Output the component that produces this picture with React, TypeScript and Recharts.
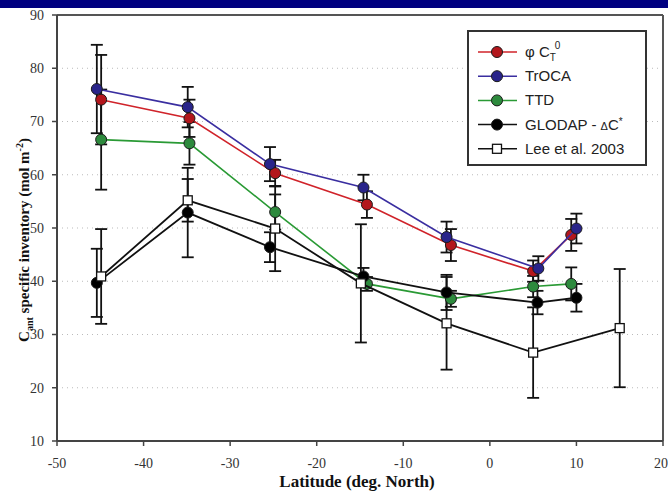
import React from 'react';
import { ScatterChart, Scatter, XAxis, YAxis, CartesianGrid, ErrorBar, ReferenceLine } from 'recharts';

const xTicks = [-50, -40, -30, -20, -10, 0, 10, 20];
const yTicks = [10, 20, 30, 40, 50, 60, 70, 80, 90];

// φ CT0
const phiLat = [-44.9, -34.7, -24.8, -14.2, -4.5, 5.0, 9.4];
const phiVal = [74.1, 70.6, 60.3, 54.4, 46.8, 41.9, 48.7];
const phiErr = [8.4, 3.5, 2.5, 2.5, 3.0, 2.0, 3.0];
// TrOCA
const trocaLat = [-45.4, -34.9, -25.4, -14.6, -5.0, 5.6, 10.0];
const trocaVal = [76.1, 72.7, 62.0, 57.6, 48.3, 42.4, 49.9];
const trocaErr = [8.3, 3.8, 3.2, 2.4, 2.9, 2.3, 2.8];
// TTD
const ttdLat = [-44.9, -34.7, -24.8, -14.2, -4.5, 5.0, 9.4];
const ttdVal = [66.6, 65.9, 53.0, 39.5, 36.7, 39.0, 39.5];
const ttdErr = [9.4, 4.0, 3.3, 1.3, 1.5, 2.0, 3.1];
// GLODAP - ΔC*
const gloLat = [-45.4, -34.9, -25.4, -14.6, -5.0, 5.5, 10.0];
const gloVal = [39.7, 52.9, 46.4, 40.9, 37.9, 36.0, 36.9];
const gloErr = [6.4, 8.4, 2.8, 1.6, 3.3, 2.2, 2.6];
// Lee et al. 2003
const leeLat = [-44.9, -34.9, -24.8, -14.9, -5.0, 5.0, 15.0];
const leeVal = [40.9, 55.2, 49.9, 39.6, 32.1, 26.6, 31.2];
const leeErr = [8.9, 4.0, 8.0, 11.1, 8.7, 8.5, 11.1];

const build = (lat: number[], val: number[], err: number[]) =>
  lat.map((x, i) => ({ x, y: val[i], e: err[i] }));

const SERIF = 'Liberation Serif, Times New Roman, serif';
const SANS = 'Liberation Sans, Arial, sans-serif';

const series = [
  { name: 'phi', data: build(phiLat, phiVal, phiErr), line: '#d0232a', fill: '#b3161c', square: false },
  { name: 'troca', data: build(trocaLat, trocaVal, trocaErr), line: '#3a2ea0', fill: '#29248a', square: false },
  { name: 'ttd', data: build(ttdLat, ttdVal, ttdErr), line: '#2a9a35', fill: '#2d8a3d', square: false },
  { name: 'glodap', data: build(gloLat, gloVal, gloErr), line: '#111', fill: '#000', square: false },
  { name: 'lee', data: build(leeLat, leeVal, leeErr), line: '#111', fill: '#fff', square: true },
];

const circleShape = (fill: string) => (p: any) => (
  <circle cx={p.cx} cy={p.cy} r={5.5} fill={fill} stroke="#1a1a1a" strokeWidth={1} />
);
const squareShape = (p: any) => (
  <rect x={p.cx - 4.5} y={p.cy - 4.5} width={9} height={9} fill="#fff" stroke="#111" strokeWidth={1.3} />
);

const YLabel = () => (
  <text
    x={29}
    y={240}
    transform="rotate(-90 29 240)"
    textAnchor="middle"
    fontFamily={SERIF}
    fontWeight="bold"
    fontSize={15}
    fill="#111"
  >
    C<tspan dy={4} fontSize={10}>ant</tspan>
    <tspan dy={-4}> specific inventory (mol m</tspan>
    <tspan dy={-6} fontSize={10}>-2</tspan>
    <tspan dy={6}>)</tspan>
  </text>
);

const XLabel = () => (
  <text x={357} y={487} textAnchor="middle" fontFamily={SERIF} fontWeight="bold" fontSize={17} fill="#111">
    Latitude (deg. North)
  </text>
);

const legendItems = [
  { key: 'phi', color: '#d0232a', fill: '#b3161c', square: false },
  { key: 'troca', color: '#3a2ea0', fill: '#29248a', square: false },
  { key: 'ttd', color: '#2a9a35', fill: '#2d8a3d', square: false },
  { key: 'glodap', color: '#111', fill: '#000', square: false },
  { key: 'lee', color: '#111', fill: '#fff', square: true },
];

const legendText = (key: string) => {
  switch (key) {
    case 'phi':
      return (
        <>
          {'φ C'}
          <tspan dy={4} fontSize={10}>T</tspan>
          <tspan dx={-1} dy={-12} fontSize={10}>0</tspan>
        </>
      );
    case 'troca':
      return 'TrOCA';
    case 'ttd':
      return 'TTD';
    case 'glodap':
      return (
        <>
          {'GLODAP - '}
          <tspan fontSize={11}>Δ</tspan>
          {'C'}
          <tspan dy={-5} fontSize={10}>*</tspan>
        </>
      );
    default:
      return 'Lee et al. 2003';
  }
};

const LegendBox = () => (
  <div style={{ position: 'absolute', left: 467, top: 30, width: 180, height: 136 }}>
    <svg width={180} height={136}>
      <rect x={1} y={1} width={178} height={134} fill="#fff" stroke="#333" strokeWidth={2} />
      {legendItems.map((it, i) => {
        const cy = 22 + i * 24.2;
        return (
          <g key={it.key}>
            <line x1={11} x2={50} y1={cy} y2={cy} stroke={it.color} strokeWidth={1.5} />
            {it.square ? (
              <rect x={25.5} y={cy - 4.5} width={9} height={9} fill="#fff" stroke="#111" strokeWidth={1.3} />
            ) : (
              <circle cx={30} cy={cy} r={5.5} fill={it.fill} stroke="#1a1a1a" strokeWidth={1} />
            )}
            <text x={58} y={cy + 5} fontFamily={SANS} fontSize={15} fill="#222">
              {legendText(it.key)}
            </text>
          </g>
        );
      })}
    </svg>
  </div>
);

export default function App() {
  return (
    <div style={{ position: 'absolute', left: 0, top: 0, width: 668, height: 492, background: '#fff', overflow: 'hidden' }}>
      <div style={{ position: 'absolute', left: 0, top: 0, width: 668, height: 8, background: '#000080' }} />
      <ScatterChart width={668} height={492} margin={{ top: 15, right: 5, bottom: 0, left: 7 }}>
        <CartesianGrid horizontal vertical={false} stroke="#bbb" strokeDasharray="1 4" />
        <XAxis
          type="number"
          dataKey="x"
          domain={[-50, 20]}
          ticks={xTicks}
          allowDataOverflow
          height={51}
          tickSize={5}
          tickMargin={12}
          tick={{ fill: '#333', fontSize: 14, fontFamily: SERIF }}
          tickLine={{ stroke: '#444', strokeWidth: 1.5 }}
          axisLine={{ stroke: '#444', strokeWidth: 2 }}
          label={<XLabel />}
        />
        <YAxis
          type="number"
          dataKey="y"
          domain={[10, 90]}
          ticks={yTicks}
          allowDataOverflow
          width={50}
          tickSize={5}
          tickMargin={8}
          tick={{ fill: '#333', fontSize: 14, fontFamily: SERIF }}
          tickLine={{ stroke: '#444', strokeWidth: 1.5 }}
          axisLine={{ stroke: '#444', strokeWidth: 2 }}
          label={<YLabel />}
        />
        <ReferenceLine y={90} stroke="#555" strokeWidth={2} />
        <ReferenceLine x={20} stroke="#555" strokeWidth={2} />
        {series.map((s) => (
          <Scatter
            key={s.name}
            data={s.data}
            isAnimationActive={false}
            line={{ stroke: s.line, strokeWidth: s.square || s.name === 'glodap' ? 1.8 : 1.6 }}
            shape={s.square ? squareShape : circleShape(s.fill)}
          >
            <ErrorBar dataKey="e" direction="y" width={6} stroke="#111" strokeWidth={1.8} isAnimationActive={false} />
          </Scatter>
        ))}
      </ScatterChart>
      <LegendBox />
    </div>
  );
}
